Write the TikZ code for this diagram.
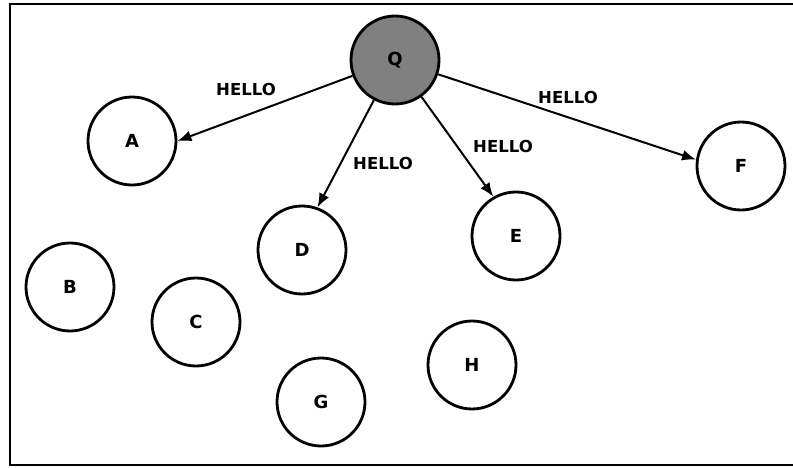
\documentclass[tikz,border=0pt]{standalone}
\usepackage{fontspec}
\setmainfont{DejaVu Sans}
\usetikzlibrary{arrows.meta}
\definecolor{qgray}{RGB}{128,128,128}
\tikzset{
  peer/.style={draw, circle, line width=2.8pt, minimum size=88pt, inner sep=0, font=\fontsize{18}{20}\selectfont\bfseries},
  hello/.style={font=\fontsize{16.5}{19}\selectfont\bfseries, inner sep=0}
}
\begin{document}
\begin{tikzpicture}[x=1pt, y=-1pt]
\useasboundingbox (0,0) rectangle (793,468);
% Frame
\draw[line width=2.8pt] (793,4) -- (10,4) -- (10,465) -- (793,465);
\node[peer, fill=qgray] (q) at (395,60) {Q};
\node[peer] (a) at (132,141) {A};
\node[peer] (b) at (70,287) {B};
\node[peer] (c) at (196,322) {C};
\node[peer] (d) at (302,250) {D};
\node[peer] (e) at (516,236) {E};
\node[peer] (f) at (741,166) {F};
\node[peer] (g) at (321,402) {G};
\node[peer] (h) at (472,365) {H};
% Arrows
\draw [-{Latex[length=14pt, width=11pt]}, line width=2pt] (q)--(a.east);
\draw [-{Latex[length=14pt, width=11pt]}, line width=2pt] (q)--(d.70);
\draw [-{Latex[length=14pt, width=11pt]}, line width=2pt] (q)--(e.120);
\draw [-{Latex[length=14pt, width=11pt]}, line width=2pt] (q)--(f.172);
% Labels
\node[hello] (ha) at (246,89) {HELLO};
\node[hello] (hd) at (383,163) {HELLO};
\node[hello] (he) at (503,146) {HELLO};
\node[hello] (hf) at (568,97) {HELLO};
\end{tikzpicture}
\end{document}
